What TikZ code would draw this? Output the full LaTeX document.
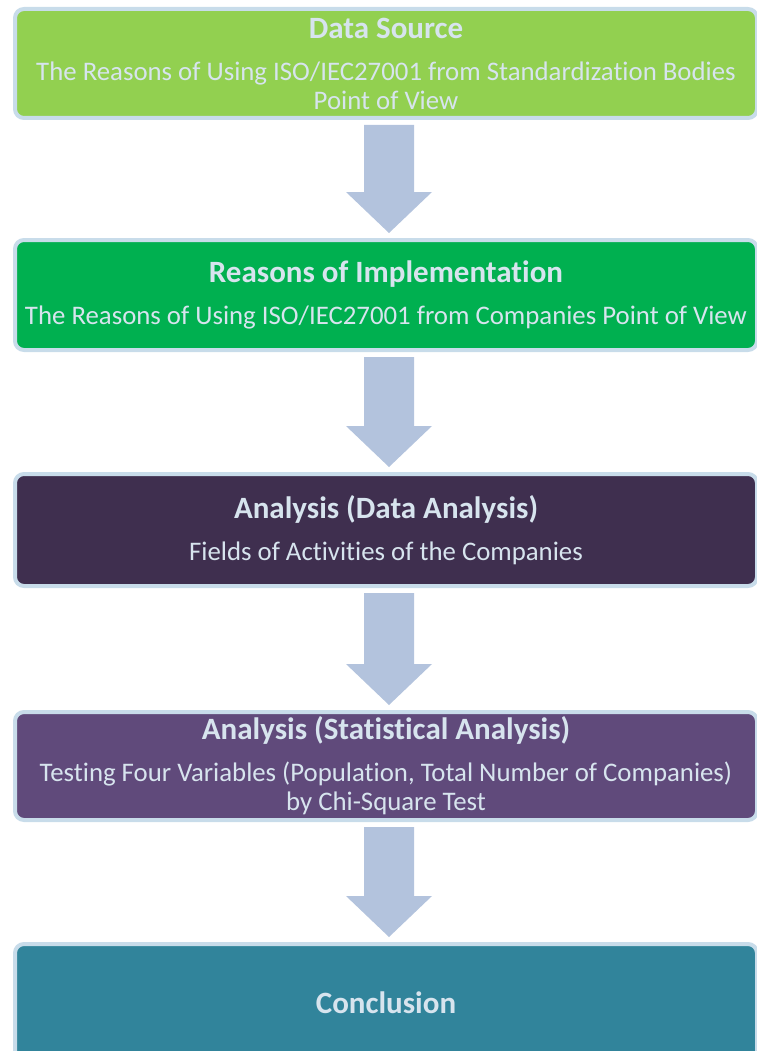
\documentclass[tikz,border=0pt]{standalone}
\usepackage{fontspec}
\setmainfont{Carlito}[Ligatures=NoCommon]
\usetikzlibrary{calc}
\definecolor{bordercol}{HTML}{C8DCEA}
\definecolor{arrowcol}{HTML}{B3C3DD}
\definecolor{textcol}{HTML}{D7E4EE}
\definecolor{cA}{HTML}{92D050}
\definecolor{cB}{HTML}{00B050}
\definecolor{cC}{HTML}{3F2F4F}
\definecolor{cD}{HTML}{604A7B}
\definecolor{cE}{HTML}{31849B}
\newcommand\ttl[1]{{\fontsize{31}{34}\selectfont\bfseries #1}}
\newcommand\flowarrow[2]{%
  \fill[arrowcol] let \p1=($(#1.south)+(3,5)$), \p2=($(#2.north)+(3,-5)$) in
    (\x1-25pt,\y1) -- (\x1+25pt,\y1) -- (\x1+25pt,\y2+41pt) -- (\x1+43pt,\y2+41pt)
    -- (\x1,\y2) -- (\x1-43pt,\y2+41pt) -- (\x1-25pt,\y2+41pt) -- cycle;}
\begin{document}
\begin{tikzpicture}[x=1pt,y=-1pt,
  box/.style={draw=bordercol, line width=4pt, rounded corners=9pt, minimum width=742pt,
    align=center, text=textcol, inner sep=0pt,
    font=\fontsize{26.8}{29}\selectfont}]
\useasboundingbox (0,0) rectangle (756,1051);
\node[box, fill=cA, minimum height=109pt] (b1) at (386,63.5)
  {\ttl{Data Source}\\[13pt] The Reasons of Using ISO/IEC27001 from Standardization Bodies\\ Point of View};
\node[box, fill=cB, minimum height=110pt] (b2) at (386,295)
  {\ttl{Reasons of Implementation}\\[13pt] The Reasons of Using ISO/IEC27001 from Companies Point of View};
\node[box, fill=cC, minimum height=112pt] (b3) at (386,530)
  {\ttl{Analysis (Data Analysis)}\\[13pt] Fields of Activities of the Companies};
\node[box, fill=cD, minimum height=108pt] (b4) at (386,766)
  {\ttl{Analysis (Statistical Analysis)}\\[13pt] Testing Four Variables (Population, Total Number of Companies)\\ by Chi-Square Test};
\node[box, fill=cE, minimum height=118pt, text depth=0pt] (b5) at (386,1003)
  {\ttl{Conclusion}};
\flowarrow{b1}{b2}
\flowarrow{b2}{b3}
\flowarrow{b3}{b4}
\flowarrow{b4}{b5}
\end{tikzpicture}
\end{document}
